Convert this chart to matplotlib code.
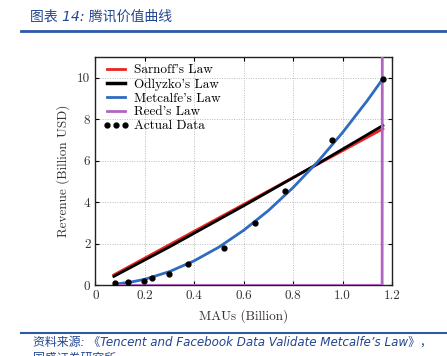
import numpy as np
import matplotlib
matplotlib.use("Agg")
import matplotlib.pyplot as plt
from matplotlib.lines import Line2D

# data
mau = [0.08, 0.134, 0.198, 0.23, 0.298, 0.374, 0.52, 0.645, 0.768, 0.957, 1.163]
revenue = [0.13, 0.17, 0.19, 0.34, 0.53, 1.04, 1.82, 2.98, 4.56, 7.02, 9.95]

sarnoff_x = [0.075, 1.163]
sarnoff_y = [0.5, 7.54]

odlyzko_x = [0.075, 0.3, 0.6, 0.9, 1.163]
odlyzko_y = [0.43, 1.85, 3.83, 5.86, 7.7]

metcalfe_x = [0.08, 0.15, 0.2, 0.3, 0.4, 0.5, 0.6, 0.7, 0.8, 0.9, 1.0, 1.1, 1.163]
metcalfe_y = [0.05, 0.17, 0.29, 0.66, 1.18, 1.84, 2.65, 3.6, 4.71, 5.96, 7.36, 8.9, 9.95]

reed_x = [0.08, 0.5, 1.0, 1.16, 1.163]
reed_y = [0.0, 0.0, 0.0, 0.0, 50.0]

title_txt = "图表 14: 腾讯价值曲线"
source_txt = "资料来源: 《Tencent and Facebook Data Validate Metcalfe’s Law》，"
source_txt2 = "国盛证券研究所"

blue_txt = '#23468f'
serif = ['cmr10', 'DejaVu Serif']
cjk_it = ['DejaVu Sans', 'Noto Sans CJK SC']

plt.rcParams['axes.formatter.use_mathtext'] = True
fig = plt.figure(figsize=(4.47, 3.56), dpi=100)
ax = fig.add_axes([0.2132, 0.1986, 0.6638, 0.6413])

ax.plot(sarnoff_x, sarnoff_y, color='#ee2222', lw=2.0, zorder=3)
ax.plot(odlyzko_x, odlyzko_y, color='black', lw=2.0, zorder=3)
ax.plot(metcalfe_x, metcalfe_y, color='#2f6bbf', lw=2.0, zorder=4)
ax.plot(reed_x, reed_y, color='#b066c0', lw=2.0, zorder=5)
ax.plot(mau, revenue, 'o', color='black', ms=3.5, zorder=6)

ax.set_xlim(0, 1.2)
ax.set_ylim(0, 11)
ax.set_xticks([0, 0.2, 0.4, 0.6, 0.8, 1.0, 1.2])
ax.set_xticklabels(['0', '0.2', '0.4', '0.6', '0.8', '1.0', '1.2'])
ax.set_yticks([0, 2, 4, 6, 8, 10])
ax.set_yticklabels(['0', '2', '4', '6', '8', '10'])
for lab in ax.get_xticklabels() + ax.get_yticklabels():
    lab.set_family(serif)
    lab.set_fontsize(9.5)
    lab.set_color('#333333')
ax.tick_params(direction='in', top=True, right=True, length=3, width=0.8)
ax.grid(True, linestyle=(0, (1, 1.5)), color='#bbbbbb', lw=0.7)
for s in ax.spines.values():
    s.set_linewidth(1.0)
    s.set_color('#222222')

ax.set_xlabel('MAUs (Billion)', family=serif, fontsize=9.5, color='#333333', labelpad=5)
ax.set_ylabel('Revenue (Billion USD)', family=serif, fontsize=9.5, color='#333333', labelpad=5)

handles = [Line2D([], [], color='#ee2222', lw=2),
           Line2D([], [], color='black', lw=2.5),
           Line2D([], [], color='#2f6bbf', lw=2),
           Line2D([], [], color='#b066c0', lw=2),
           Line2D([], [], color='black', ls='none', marker='o', ms=3.5)]
labels = ["Sarnoff's Law", "Odlyzko's Law", "Metcalfe's Law", "Reed's Law", "Actual Data"]
leg = ax.legend(handles, labels, loc='upper left', frameon=False, handlelength=2.0,
                handletextpad=0.4, labelspacing=0.12, borderaxespad=0.15,
                prop={'family': serif, 'size': 9.5}, numpoints=3)

# header / footer decorations
fig.text(30 / 447, 1 - 17 / 356, title_txt, family=cjk_it, fontsize=10, color=blue_txt,
         style='italic', va='center', ha='left')
fig.add_artist(Line2D([21 / 447, 1], [1 - 31 / 356, 1 - 31 / 356], color='#2a5aa8', lw=2))
fig.add_artist(Line2D([21 / 447, 1], [1 - 333 / 356, 1 - 333 / 356], color='#2a5aa8', lw=1.5))
fig.text(33 / 447, 1 - 342 / 356, source_txt, family=cjk_it, fontsize=8.6, color=blue_txt,
         style='italic', va='center', ha='left')
fig.text(33 / 447, 1 - 358 / 356, source_txt2, family=cjk_it, fontsize=8.6, color=blue_txt,
         style='italic', va='center', ha='left')

plt.savefig('out.png', dpi=100)
